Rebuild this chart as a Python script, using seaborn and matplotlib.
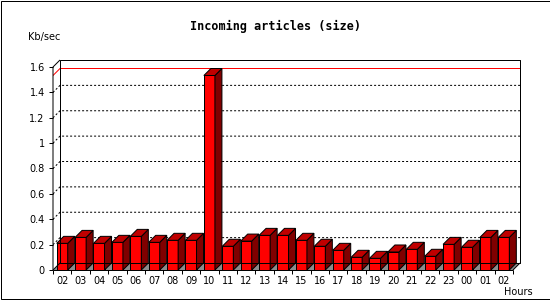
import numpy as np
import pandas as pd
import matplotlib
matplotlib.use('Agg')
import matplotlib.pyplot as plt
import seaborn as sns
from matplotlib.patches import Polygon, Rectangle

# hourly incoming article volume, Kb/sec
hours = ['02', '03', '04', '05', '06', '07', '08', '09', '10', '11', '12', '13',
         '14', '15', '16', '17', '18', '19', '20', '21', '22', '23', '00', '01', '02']
kb = [0.21, 0.257, 0.21, 0.218, 0.265, 0.218, 0.234, 0.234, 1.533, 0.187, 0.228, 0.273,
      0.273, 0.234, 0.187, 0.155, 0.10, 0.092, 0.142, 0.163, 0.108, 0.202, 0.179, 0.257, 0.257]
yticks = [0, 0.2, 0.4, 0.6, 0.8, 1.0, 1.2, 1.4, 1.6]

sns.set_style('white')
plt.rcParams['font.family'] = ['DejaVu Sans']
plt.rcParams.update({'text.color': 'black', 'xtick.color': 'black',
                     'ytick.color': 'black', 'axes.labelcolor': 'black'})

df = pd.DataFrame({'slot': range(len(kb)), 'kb': kb})
n = len(kb)
ymax = yticks[-1]
# fake 3d depth, in data units (~7px each way)
dx = 7 / 18.4
dy = 7 / 126.9
lw = 0.72

fig = plt.figure(figsize=(5.5, 3), dpi=100)
ax = fig.add_axes([53 / 550, 30 / 300, 467 / 550, 210 / 300])

sns.barplot(data=df, x='slot', y='kb', color='#ff0000', saturation=1, width=0.6,
            edgecolor='black', linewidth=lw, errorbar=None, ax=ax, zorder=3)

# side and top faces of each bar
for p in list(ax.patches):
    x0 = p.get_x()
    x1 = x0 + p.get_width()
    h = p.get_height()
    side = Polygon([(x1, 0), (x1 + dx, dy), (x1 + dx, h + dy), (x1, h)], closed=True,
                   facecolor='#800000', edgecolor='black', linewidth=lw, zorder=3)
    top = Polygon([(x0, h), (x1, h), (x1 + dx, h + dy), (x0 + dx, h + dy)], closed=True,
                  facecolor='#c00000', edgecolor='black', linewidth=lw, zorder=3)
    ax.add_patch(side)
    ax.add_patch(top)

left = -0.5
right = n - 0.5

# floor
ax.add_patch(Polygon([(left, 0), (right, 0), (right + dx, dy), (left + dx, dy)], closed=True,
                     facecolor='#8c8c8c', edgecolor='none', zorder=2))

# dotted grid on left wall and back wall
for t in yticks[1:-1]:
    ax.plot([left, left + dx, right + dx], [t + 0, t + dy, t + dy], color='black', lw=lw,
            linestyle=(0, (2, 2)), zorder=1)

# max line
top_val = max(kb)
ax.plot([left, left + dx, right + dx], [top_val, top_val + dy, top_val + dy], color='red',
        lw=lw, zorder=2)

# box frame
frame = dict(color='black', lw=lw, zorder=4, clip_on=False, solid_capstyle='butt')
ax.plot([left, right], [0, 0], **frame)
ax.plot([left, left, left + dx], [0, ymax, ymax + dy], **frame)
ax.plot([left, left + dx], [0, dy], **frame)
ax.plot([left + dx, left + dx, right + dx, right + dx, left + dx],
        [dy, ymax + dy, ymax + dy, dy, dy], **frame)
ax.plot([right + dx, right], [dy, 0], **frame)

ax.set_xlim(left, right + dx)
ax.set_ylim(0, ymax + dy)
for s in ax.spines.values():
    s.set_visible(False)

ax.set_xticks(range(n))
ax.set_xticklabels(hours)
ax.set_xticks(np.arange(n + 1) - 0.5, minor=True)
ax.set_yticks(yticks)
ax.set_yticklabels(['%g' % t for t in yticks])
ax.tick_params(axis='x', which='major', bottom=True, length=0, pad=4.5, labelsize=7)
ax.tick_params(axis='x', which='minor', bottom=True, length=2.9, width=lw, color='black')
ax.tick_params(axis='y', left=True, length=2.9, width=lw, color='black', pad=3, labelsize=7)
ax.set_xlabel('')
ax.set_ylabel('')

fig.text(0.5, 1 - 26.5 / 300, 'Incoming articles (size)', ha='center', va='center',
         family='DejaVu Sans Mono', weight='bold', fontsize=8.5)
fig.text(28 / 550, 1 - 37 / 300, 'Kb/sec', ha='left', va='center', fontsize=7)
fig.text(533 / 550, 1 - 292 / 300, 'Hours', ha='right', va='center', fontsize=7)

fig.patches.append(Rectangle((0.5 / 550, 1.5 / 300), 549 / 550, 298 / 300, transform=fig.transFigure,
                             fill=False, edgecolor='black', linewidth=lw))

fig.savefig('out.png', dpi=100)
